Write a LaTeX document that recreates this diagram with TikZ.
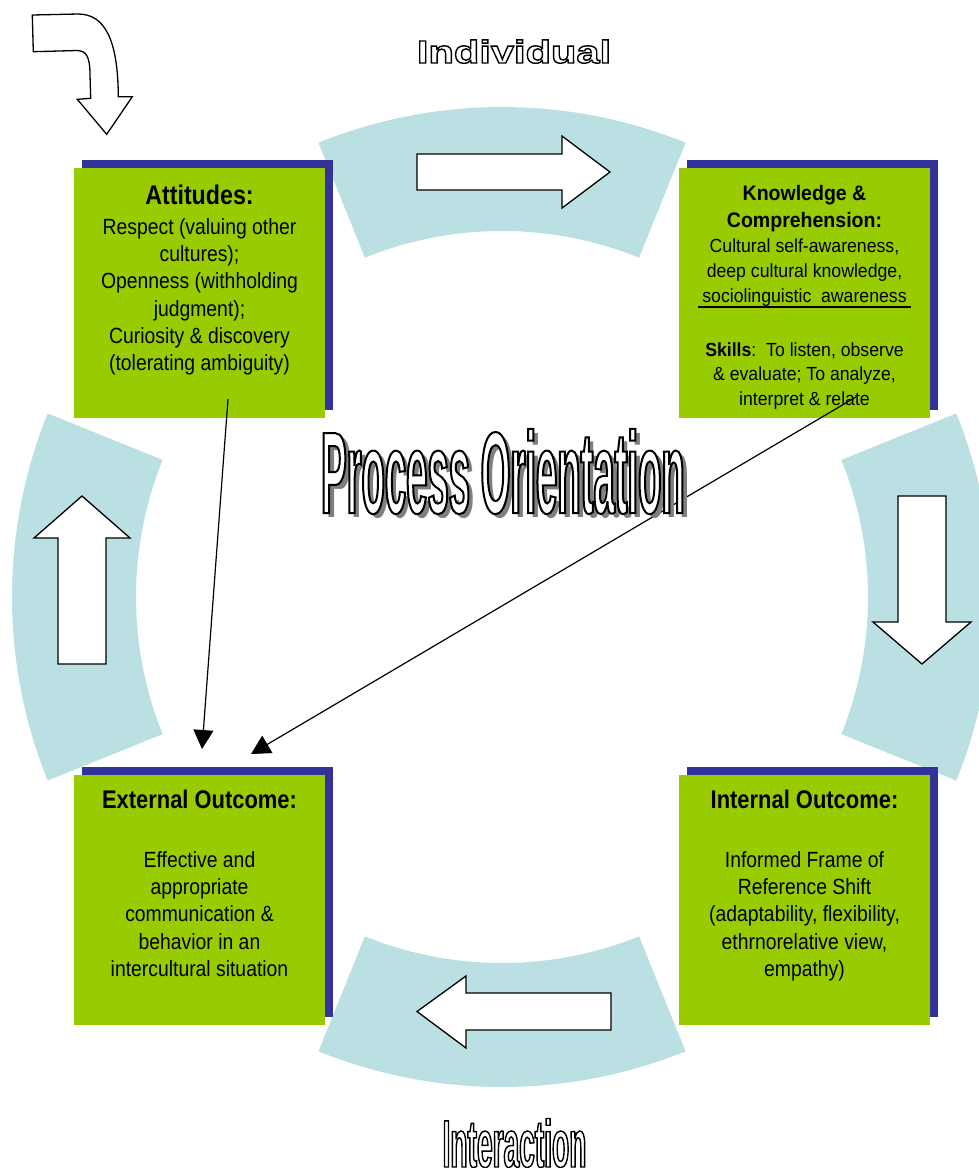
\documentclass[tikz,border=0pt]{standalone}
\usepackage{fontspec}
\newfontfamily\bodyfont[FakeStretch=0.88]{Liberation Sans}
\newfontfamily\titlefont[FakeStretch=0.86]{Liberation Sans}
\newfontfamily\kfont[FakeStretch=0.93]{Liberation Sans}
\newfontfamily\indfont[FakeStretch=1.3]{Liberation Sans}
\newfontfamily\pofont[FakeStretch=0.33]{Liberation Sans}
\newfontfamily\intfont[FakeStretch=0.42]{Liberation Sans}
\usetikzlibrary{arrows.meta,shadows,calc}
\definecolor{boxgreen}{HTML}{99CC00}
\definecolor{shadowblue}{HTML}{333399}
\definecolor{ringblue}{HTML}{BBE0E3}
\definecolor{poshadow}{HTML}{7F7F7F}
\newcommand{\outl}[2]{\special{pdf:literal direct 2 Tr #1 w 0 0 0 RG 1 1 1 rg}#2\special{pdf:literal direct 0 Tr}}
\begin{document}
\begin{tikzpicture}[x=1pt,y=-1pt,
  gbox/.style={fill=boxgreen, minimum width=251pt, minimum height=250pt, inner sep=0pt,
    general shadow={fill=shadowblue, shadow xshift=8pt, shadow yshift=8pt}},
  ttl/.style={font=\titlefont\bfseries\fontsize{25.5}{30}\selectfont, inner sep=0pt},
  body/.style={font=\bodyfont\fontsize{22}{27.3}\selectfont, align=center, inner sep=0pt},
  ktl/.style={font=\kfont\bfseries\fontsize{21}{27}\selectfont, align=center, inner sep=0pt},
  kbody/.style={font=\kfont\fontsize{19}{25}\selectfont, align=center, inner sep=0pt},
  blockarrow/.style={fill=white, draw=black, line width=1.3pt, line join=miter},
  thinarrow/.style={line width=1.2pt, -{Triangle[length=19pt,width=20pt]}},
  ring/.style={fill=ringblue}
]
\useasboundingbox (0,0) rectangle (979,1168);
\coordinate (c) at (502,597);
% ring segments
\foreach \s/\e in {-112/-68, -22/22, 68/112, 158/202}{
  \fill[ring] ($(c)+(\s:490)$) arc[start angle=\s, end angle=\e, radius=490]
     -- ($(c)+(\e:366)$) arc[start angle=\e, end angle=\s, radius=366] -- cycle;
}
% boxes
\node[gbox] (att) at (199.5,293) {};
\node[gbox] (know) at (804.5,292.5) {};
\node[gbox] (ext) at (199.5,899.5) {};
\node[gbox] (int) at (804.5,899.5) {};
% block arrows
\draw[blockarrow] (417,154) -- (562,154) -- (562,136) -- (610,172) -- (562,208) -- (562,190) -- (417,190) -- cycle;
\draw[blockarrow] (898,496) -- (946,496) -- (946,622) -- (971,622) -- (922,664) -- (873,622) -- (898,622) -- cycle;
\draw[blockarrow] (611,993) -- (466,993) -- (466,976) -- (417,1011.5) -- (466,1048) -- (466,1030) -- (611,1030) -- cycle;
\draw[blockarrow] (58,664) -- (58,538) -- (34,538) -- (82,496) -- (130,538) -- (106,538) -- (106,664) -- cycle;
% curved arrow
\draw[blockarrow] (32.3,15) -- (78,14) .. controls (105,14) and (118,40) .. (118.3,96.7)
  -- (132.3,96.7) -- (106.7,134.3) -- (77.3,99.3) -- (90.7,98.3) -- (90,75)
  .. controls (90,56) and (86,51) .. (77.3,50.5) -- (33.3,51.7) -- cycle;
% texts in boxes
\node[ttl, anchor=base, font=\titlefont\bfseries\fontsize{27}{30}\selectfont] (att-t) at (199.5,204) {Attitudes:};
\node[body, anchor=north] (att-b) at (199.5,214.9) {\strut Respect (valuing other\\cultures);\\Openness (withholding\\judgment);\\Curiosity \& discovery\\(tolerating ambiguity)};
\node[ktl, anchor=north] (know-t) at (804.5,181.1) {\strut Knowledge \&\\Comprehension:};
\node[kbody, anchor=north] (know-b) at (804.5,234.5) {\strut Cultural self-awareness,\\deep cultural knowledge,\\sociolinguistic\ \ awareness};
\draw[line width=1.3pt] (698,307) -- (911,307);
\node[kbody, anchor=north, font=\kfont\fontsize{19}{24.5}\selectfont] (know-s) at (804.5,338.9) {\strut\textbf{Skills}:\ \ To listen, observe\\\& evaluate; To analyze,\\interpret \& relate};
\node[ttl, anchor=base] (ext-t) at (199.5,808) {External Outcome:};
\node[body, anchor=north] (ext-b) at (199.5,847.9) {\strut Effective and\\appropriate\\communication \&\\behavior in an\\intercultural situation};
\node[ttl, anchor=base] (int-t) at (804.5,808) {Internal Outcome:};
\node[body, anchor=north] (int-b) at (804.5,847.9) {\strut Informed Frame of\\Reference Shift\\(adaptability, flexibility,\\ethrnorelative view,\\empathy)};
% thin arrows
\coordinate (a1s) at (228,399);
\coordinate (a1e) at (202,749);
\coordinate (a2s) at (856,397);
\coordinate (a2e) at (251,754);
\draw[thinarrow] (a1s) -- (a1e);
\draw[thinarrow] (a2s) -- (a2e);
% titles
\node[anchor=base, inner sep=0pt, font=\indfont\bfseries\fontsize{32}{36}\selectfont] (ind) at (514,63) {\outl{1.4}{Individual}};
\node[anchor=base, inner sep=0pt, font=\pofont\bfseries\fontsize{116}{120}\selectfont, text=poshadow] (po-sh) at (508,517) {Process Orientation};
\node[anchor=base, inner sep=0pt, font=\pofont\bfseries\fontsize{116}{120}\selectfont] (po) at (503,513) {\outl{2}{Process Orientation}};
\node[anchor=base, inner sep=0pt, font=\intfont\bfseries\fontsize{67}{70}\selectfont] (inter) at (514.5,1167) {\outl{1.4}{Interaction}};
\end{tikzpicture}
\end{document}
